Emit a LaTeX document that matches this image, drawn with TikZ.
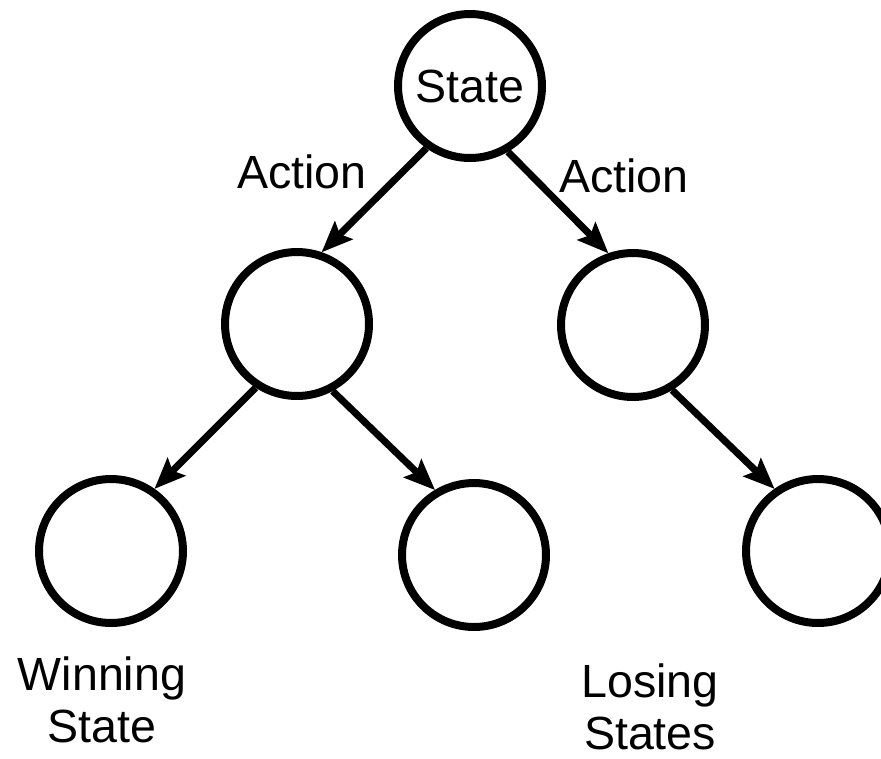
\documentclass[tikz,border=0pt]{standalone}
\usepackage{fontspec}
\setmainfont{Liberation Sans}
\usetikzlibrary{arrows.meta}
\begin{document}
\begin{tikzpicture}[x=0.02cm,y=-0.02cm,
  state/.style={circle, draw, line width=0.16cm, minimum size=2.88cm, inner sep=0pt,
    font=\fontsize{26.5}{30}\selectfont},
  move/.style={line width=0.14cm,
    -{Stealth[length=18pt,width=15pt,inset=3.5pt,line width=0pt]}},
  lbl/.style={font=\fontsize{26.5}{29.6}\selectfont, align=center, inner sep=0pt}]
\useasboundingbox (0,0) rectangle (881,758);

% game tree states
\node[state] (root) at (470,86) {State};
\node[state] (ml) at (297,324) {};
\node[state] (mr) at (633,325) {};
\node[state] (bl) at (111,551) {};
\node[state] (bm) at (474,555) {};
\node[state] (br) at (818,551) {};

% actions
\draw[move] (root.235) -- (ml.71);
\draw[move] (root.300) -- (mr.109);
\draw[move] (ml.237) -- (bl.55);
\draw[move] (ml.298) -- (bm.121);
\draw[move] (mr.301) -- (br.125);

% labels
\node[lbl] (a1) at (302,172) {Action};
\node[lbl] (a2) at (624,176) {Action};
\node[lbl] (win) at (102,700) {Winning\\State};
\node[lbl] (lose) at (650,707) {Losing\\States};
\end{tikzpicture}
\end{document}
